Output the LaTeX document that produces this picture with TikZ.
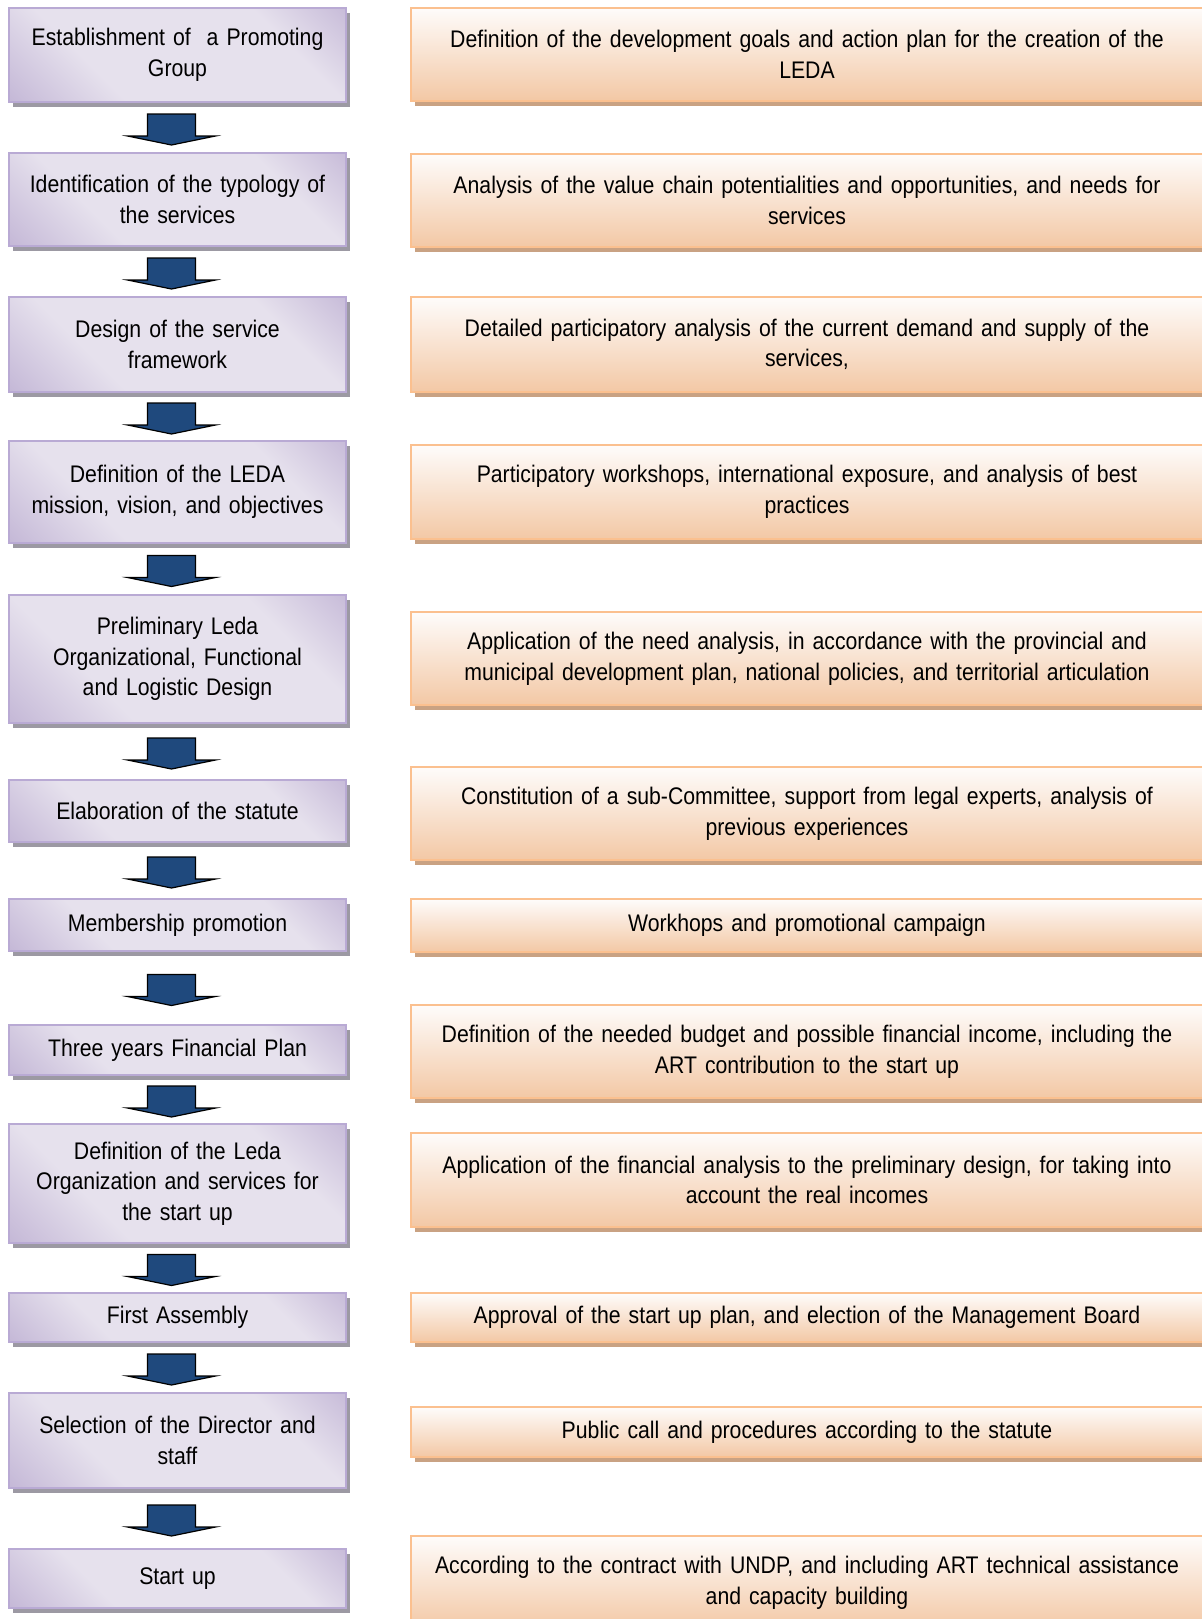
\documentclass[tikz,border=0pt]{standalone}
\usepackage{fontspec}
\setmainfont{Liberation Sans}[FakeStretch=0.885]
\usetikzlibrary{calc}
\usetikzlibrary{shadows}
\definecolor{ledadark}{HTML}{AB99C6}
\definecolor{ledalight}{HTML}{E6E1ED}
\definecolor{ledaedge}{HTML}{B9AAD4}
\definecolor{ledashade}{HTML}{9C99A3}
\definecolor{notetop}{HTML}{FEFCFB}
\definecolor{notebottom}{HTML}{F3C8A5}
\definecolor{noteedge}{HTML}{FBC08F}
\definecolor{noteshade}{HTML}{C9A283}
\definecolor{arrowblue}{HTML}{1F497D}
\pgfdeclareverticalshading{stepshade}{100bp}{color(0bp)=(ledadark); color(30bp)=(ledalight);
    color(66bp)=(ledalight); color(100bp)=(ledadark)}
\tikzset{
    ledastep/.style={draw=ledaedge, line width=1pt, shading=stepshade, shading angle=135,
        general shadow={fill=ledashade, shadow xshift=2pt, shadow yshift=-2.5pt},
        minimum width=168.5pt, text width=162pt, inner sep=0pt, align=center,
        font=\fontsize{12}{15.3}\selectfont},
    ledanote/.style={draw=noteedge, line width=1pt, top color=notetop, bottom color=notebottom,
        general shadow={fill=noteshade, shadow xshift=2pt, shadow yshift=-2.5pt},
        minimum width=396pt, text width=390pt, inner sep=0pt, align=center,
        font=\fontsize{12}{15.3}\selectfont},
    ledaarrow/.style={fill=arrowblue, draw=black, line width=0.6pt, line join=miter}
}
% block arrow half way between two steps
\newcommand{\flowarrow}[2]{%
    \path ($(#1.south)!0.5!(#2.north)$) ++(-6,2) coordinate (m);
    \draw[ledaarrow] (m) ++(-24,-15.5) -- ++(48,0) -- ++(0,22) -- ++(20,0)
        -- ++(-44,9) -- ++(-44,-9) -- ++(20,0) -- cycle;}

\begin{document}
\begin{tikzpicture}[x=0.5pt,y=-0.5pt]
    \useasboundingbox (0,0) rectangle (1202,1619);
    \clip (0,0) rectangle (1202,1619);

    \node[ledastep, minimum height=47pt] (l1) at (177.5,55) {Establishment of~ a Promoting\\Group};
    \node[ledastep, minimum height=46.5pt] (l2) at (177.5,199.5) {Identification of the typology of\\the services};
    \node[ledastep, minimum height=47.5pt] (l3) at (177.5,344.5) {Design of the service\\framework};
    \node[ledastep, minimum height=51pt] (l4) at (177.5,492) {Definition of the LEDA\\mission, vision, and objectives};
    \node[ledastep, minimum height=64pt] (l5) at (177.5,659) {Preliminary Leda\\Organizational, Functional\\and Logistic Design};
    \node[ledastep, minimum height=31pt] (l6) at (177.5,811) {Elaboration of the statute};
    \node[ledastep, minimum height=26pt] (l7) at (177.5,925) {Membership promotion};
    \node[ledastep, minimum height=25pt] (l8) at (177.5,1050) {Three years Financial Plan};
    \node[ledastep, minimum height=59.5pt] (l9) at (177.5,1183.5) {Definition of the Leda\\Organization and services for\\the start up};
    \node[ledastep, minimum height=24.5pt] (l10) at (177.5,1317.5) {First Assembly};
    \node[ledastep, minimum height=47.5pt] (l11) at (177.5,1440.5) {Selection of the Director and\\staff};
    \node[ledastep, minimum height=29.5pt] (l12) at (177.5,1578.5) {Start up};

    \flowarrow{l1}{l2}
    \flowarrow{l2}{l3}
    \flowarrow{l3}{l4}
    \flowarrow{l4}{l5}
    \flowarrow{l5}{l6}
    \flowarrow{l6}{l7}
    \flowarrow{l7}{l8}
    \flowarrow{l8}{l9}
    \flowarrow{l9}{l10}
    \flowarrow{l10}{l11}
    \flowarrow{l11}{l12}

    \node[ledanote, minimum height=46.5pt] (r1) at (807,54) {Definition of the development goals and action plan for the creation of the\\LEDA};
    \node[ledanote, minimum height=46.5pt] (r2) at (807,200.5) {Analysis of the value chain potentialities and opportunities, and needs for\\services};
    \node[ledanote, minimum height=47.5pt] (r3) at (807,344.5) {Detailed participatory analysis of the current demand and supply of the\\services,};
    \node[ledanote, minimum height=47pt] (r4) at (807,492) {Participatory workshops, international exposure, and analysis of best\\practices};
    \node[ledanote, minimum height=46.5pt] (r5) at (807,658.5) {Application of the need analysis, in accordance with the provincial and\\municipal development plan, national policies, and territorial articulation};
    \node[ledanote, minimum height=46.5pt] (r6) at (807,813.5) {Constitution of a sub-Committee, support from legal experts, analysis of\\previous experiences};
    \node[ledanote, minimum height=26.5pt] (r7) at (807,925.5) {Workhops and promotional campaign};
    \node[ledanote, minimum height=46.5pt] (r8) at (807,1051.5) {Definition of the needed budget and possible financial income, including the\\ART contribution to the start up};
    \node[ledanote, minimum height=47pt] (r9) at (807,1180) {Application of the financial analysis to the preliminary design, for taking into\\account the real incomes};
    \node[ledanote, minimum height=24.5pt] (r10) at (807,1317.5) {Approval of the start up plan, and election of the Management Board};
    \node[ledanote, minimum height=25pt] (r11) at (807,1432) {Public call and procedures according to the statute};
    \node[ledanote, minimum height=46.5pt] (r12) at (807,1582.5) {According to the contract with UNDP, and including ART technical assistance\\and capacity building};

\end{tikzpicture}
\end{document}
